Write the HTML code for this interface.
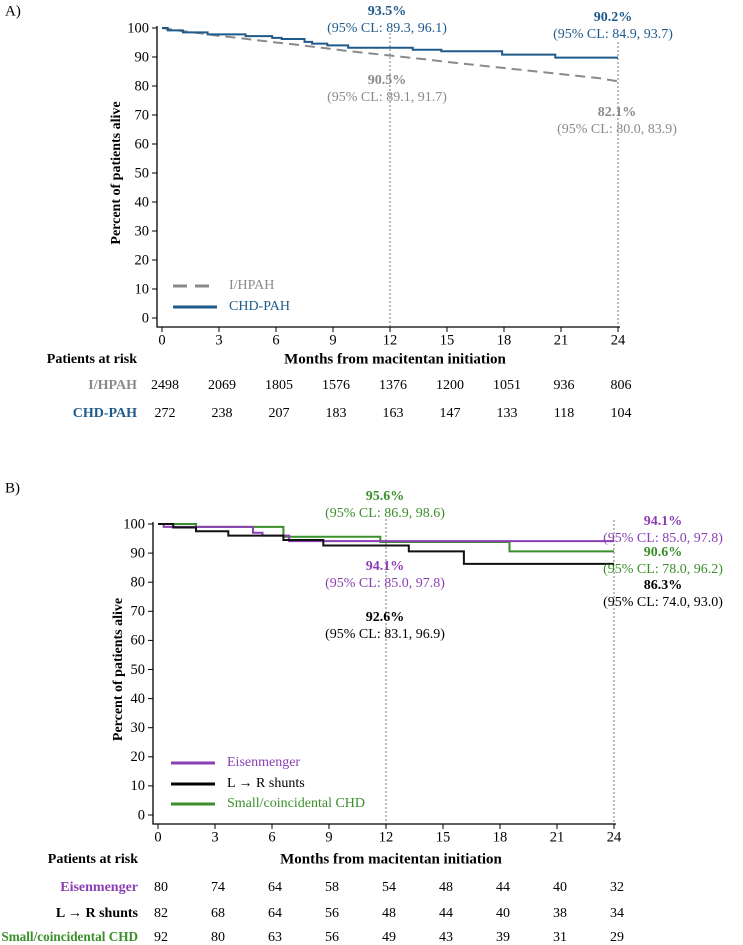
<!DOCTYPE html>
<html><head><meta charset="utf-8"><style>
body{margin:0;background:#fff;}
svg{display:block;font-family:"Liberation Serif",serif;}
</style></head><body>
<svg id="s" width="743" height="945" xmlns="http://www.w3.org/2000/svg"></svg>
<script>
const months = [0,3,6,9,12,15,18,21,24];
const yTicks = [0,10,20,30,40,50,60,70,80,90,100];
// Panel A
const chdTimes = [0,0.3,1.1,2.4,4.4,5.8,6.3,7.5,7.9,8.7,9.8,13.2,14.7,17.9,20.7];
const chdVals  = [100,99.2,98.5,97.8,97.2,96.6,96.2,95.2,94.6,94.0,93.2,92.5,92.0,90.8,89.8];
const ihpahTimes = [0,1,2,3,4,5,6,7,8,9,10,11,12,13,14,15,16,17,18,19,20,21,22,23,24];
const ihpahVals  = [100,99,98.2,97.3,96.6,95.8,95,94.3,93.5,92.7,91.9,91.2,90.5,89.8,89.1,88.3,87.6,86.9,86.2,85.5,84.8,84.1,83.4,82.7,81.6];
const riskIhpah = [2498,2069,1805,1576,1376,1200,1051,936,806];
const riskChd = [272,238,207,183,163,147,133,118,104];
// Panel B
const eisTimes = [0,0.3,5.0,5.5,6.9];
const eisVals  = [100,99,97,96,94.1];
const lrTimes = [0,0.8,2.0,3.7,6.6,8.7,13.2,16.1];
const lrVals  = [100,98.8,97.5,96,94.5,92.6,90.6,86.3];
const smTimes = [0,2.0,6.6,11.7,18.5];
const smVals  = [100,99,95.6,93.8,90.6];
const riskEis = [80,74,64,58,54,48,44,40,32];
const riskLr = [82,68,64,56,48,44,40,38,34];
const riskSm = [92,80,63,56,49,43,39,31,29];

const S=document.getElementById('s');const NS='http://www.w3.org/2000/svg';
function el(tag,attrs,txt){const e=document.createElementNS(NS,tag);for(const k in attrs)e.setAttribute(k,attrs[k]);if(txt!==undefined)e.textContent=txt;S.appendChild(e);return e;}
function txt(x,y,s,opt){opt=opt||{};const e=el('text',{x:x,y:y,'font-size':opt.fs||14,'text-anchor':opt.anchor||'middle','fill':opt.fill||'#000','font-weight':opt.bold?'bold':'normal','dominant-baseline':'middle'},s);


if(opt.rot)e.setAttribute('transform',opt.rot);return e;}

function panel(P){
  const X=m=>P.x0+m*P.dx, Y=v=>P.y0-v*P.dy;
  let a=el('path',{d:`M${P.ax},${Y(100)-2} V${P.axy} H${X(24)+2}`,stroke:'#000','stroke-width':1.3,fill:'none'});
  
  
  yTicks.forEach(v=>{let t=el('line',{x1:P.ax-5,x2:P.ax,y1:Y(v),y2:Y(v),stroke:'#000'});
    
    
    txt(P.ax-8,Y(v)+1,String(v),{anchor:'end',name:'y-tick-label',fs:14.5});});
  months.forEach(m=>{let t=el('line',{x1:X(m),x2:X(m),y1:P.axy,y2:P.axy+5,stroke:'#000'});
    
    
    txt(X(m),P.axy+14,String(m),{name:'x-tick-label',fs:14.5});});
  [12,24].forEach((m,i)=>{let l=el('line',{x1:X(m),x2:X(m),y1:P.vtop[i],y2:P.axy,stroke:'#555','stroke-width':0.8,'stroke-dasharray':'2,2'});
    
    });
  P.series.forEach(s=>{
    let d='';
    if(s.step){d=`M${X(s.t[0])},${Y(s.v[0])}`;for(let i=1;i<s.t.length;i++)d+=` H${X(s.t[i])} V${Y(s.v[i])}`;d+=` H${X(24)}`;}
    else{d=s.t.map((t,i)=>(i?'L':'M')+X(t)+','+Y(s.v[i])).join(' ');}
    let p=el('path',{d:d,stroke:s.c,'stroke-width':s.w||2,fill:'none','stroke-dasharray':s.dash||''});
    
    
  });
  txt(P.ylx,(Y(100)+Y(0))/2,'Percent of patients alive',{bold:true,rot:`rotate(-90 ${P.ylx} ${(Y(100)+Y(0))/2})`,name:'y-axis-title'});
  txt(X(12)+5,P.risk0,'Months from macitentan initiation',{bold:true,fs:15,name:'x-axis-title'});
  txt(P.rlx,P.risk0,'Patients at risk',{bold:true,anchor:'end',name:'risk-table-title'});
  P.risk.forEach(r=>{txt(P.rlx,r.y,r.label,{bold:true,anchor:'end',fill:r.c,name:'risk-row-label',fs:r.fs||14});
    r.vals.forEach((v,i)=>txt(X(months[i])+3,r.y,String(v),{name:'risk-count'}));});
  P.legend.forEach(g=>{let l=el('line',{x1:P.lgx,x2:P.lgx+44,y1:g.y,y2:g.y,stroke:g.c,'stroke-width':3,'stroke-dasharray':g.dash||''});
    
    
    txt(P.lgx+56,g.y,g.label,{anchor:'start',fill:g.c,name:'legend-entry'});});
  P.notes.forEach(n=>{txt(n.x,n.y,n.a,{bold:true,fill:n.c,name:'annotation-value'});txt(n.x,n.y+17,n.b,{fill:n.c,name:'annotation-ci'});});
}
const BL='#1f5a8a',GR='#8a8a8a',PU='#8c3fb3',GN='#3a8f2a';
txt(5,12,'A)',{anchor:'start',fs:15,name:'panel-a-label'});
txt(5,489,'B)',{anchor:'start',fs:15,name:'panel-b-label'});
panel({x0:162,dx:19,y0:318,dy:2.9,ax:157,axy:327,vtop:[33,42],ylx:117,rlx:137,risk0:360,lgx:173,
  series:[{t:ihpahTimes,v:ihpahVals,c:GR,dash:'10,6',name:'ihpah'},{t:chdTimes,v:chdVals,c:BL,step:true,name:'chd-pah'}],
  risk:[{label:'I/HPAH',c:GR,y:386,vals:riskIhpah},{label:'CHD-PAH',c:BL,y:414,vals:riskChd}],
  legend:[{label:'I/HPAH',c:GR,y:286,dash:'14,8'},{label:'CHD-PAH',c:BL,y:307}],
  notes:[{x:387,y:12,a:'93.5%',b:'(95% CL: 89.3, 96.1)',c:BL},{x:613,y:18,a:'90.2%',b:'(95% CL: 84.9, 93.7)',c:BL},
    {x:387,y:81,a:'90.5%',b:'(95% CL: 89.1, 91.7)',c:GR},{x:617,y:113,a:'82.1%',b:'(95% CL: 80.0, 83.9)',c:GR}]});
panel({x0:158,dx:19,y0:815,dy:2.91,ax:153,axy:824,vtop:[519,520],ylx:119,rlx:138,risk0:860,lgx:171,
  series:[{t:smTimes,v:smVals,c:GN,step:true,name:'small-chd'},{t:eisTimes,v:eisVals,c:PU,step:true,name:'eisenmenger'},{t:lrTimes,v:lrVals,c:'#111',step:true,name:'lr-shunts'}],
  risk:[{label:'Eisenmenger',c:PU,y:888,vals:riskEis},{label:'L → R shunts',c:'#000',y:914,vals:riskLr},{label:'Small/coincidental CHD',c:GN,y:938,vals:riskSm,fs:13.2}],
  legend:[{label:'Eisenmenger',c:PU,y:763},{label:'L → R shunts',c:'#000',y:784},{label:'Small/coincidental CHD',c:GN,y:804}],
  notes:[{x:385,y:497,a:'95.6%',b:'(95% CL: 86.9, 98.6)',c:GN},{x:663,y:522,a:'94.1%',b:'(95% CL: 85.0, 97.8)',c:PU},
    {x:663,y:553,a:'90.6%',b:'(95% CL: 78.0, 96.2)',c:GN},{x:663,y:586,a:'86.3%',b:'(95% CL: 74.0, 93.0)',c:'#000'},
    {x:385,y:567,a:'94.1%',b:'(95% CL: 85.0, 97.8)',c:PU},{x:385,y:618,a:'92.6%',b:'(95% CL: 83.1, 96.9)',c:'#000'}]});
</script>
</body></html>
